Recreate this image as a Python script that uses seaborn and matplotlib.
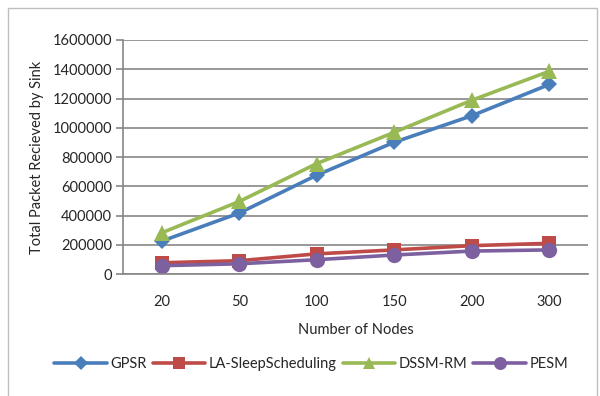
import matplotlib
matplotlib.use("Agg")
import matplotlib.pyplot as plt
import seaborn as sns
import pandas as pd
from matplotlib.patches import Rectangle

nodes = ["20", "50", "100", "150", "200", "300"]
gpsr = [225000, 417000, 676000, 901000, 1082000, 1296000]
la_sleep = [77000, 91000, 138000, 165000, 194000, 210000]
dssm_rm = [282000, 496000, 755000, 969000, 1188000, 1386000]
pesm = [57000, 70000, 98000, 130000, 157000, 165000]
series_names = ["GPSR", "LA-SleepScheduling", "DSSM-RM", "PESM"]
y_ticks = [0, 200000, 400000, 600000, 800000, 1000000, 1200000, 1400000, 1600000]

rows = []
for name, vals in zip(series_names, [gpsr, la_sleep, dssm_rm, pesm]):
    for n, v in zip(nodes, vals):
        rows.append({"Nodes": n, "Value": v, "Series": name})
df = pd.DataFrame(rows)

sns.set_theme(style="white")
plt.rcParams['font.family'] = ['Lato', 'DejaVu Sans']

fig = plt.figure(figsize=(6, 3.96), dpi=100)
ax = fig.add_axes([0.205, 0.308, 0.775, 0.591])

palette = {"GPSR": "#4A7EBB", "LA-SleepScheduling": "#BE4B48",
           "DSSM-RM": "#98B954", "PESM": "#7D60A0"}
markers = {"GPSR": "D", "LA-SleepScheduling": "s", "DSSM-RM": "^", "PESM": "o"}
sizes = {"GPSR": 8.5, "LA-SleepScheduling": 9.5, "DSSM-RM": 11, "PESM": 11}

for name in series_names:
    sub = df[df["Series"] == name]
    sns.lineplot(data=sub, x="Nodes", y="Value", ax=ax, color=palette[name],
                 marker=markers[name], markersize=sizes[name], markeredgewidth=0,
                 linewidth=2.6, label=name, sort=False)

ax.set_xlim(-0.5, 5.5)
ax.set_ylim(0, 1600000)
ax.set_yticks(y_ticks)
ax.set_yticklabels([str(t) for t in y_ticks])
ax.yaxis.grid(True, color="#868686", linewidth=1.2)
ax.xaxis.grid(False)
ax.set_axisbelow(True)
for s in ["top", "right"]:
    ax.spines[s].set_visible(False)
ax.spines["left"].set_color("#868686")
ax.spines["bottom"].set_color("#868686")
ax.spines["left"].set_linewidth(1.2)
ax.spines["bottom"].set_linewidth(1.2)
ax.tick_params(axis="y", left=True, length=5, width=1.2, color="#868686", labelsize=10.5, pad=3)
ax.tick_params(axis="x", bottom=False, labelsize=10.5, pad=9)
ax.set_xlabel("Number of Nodes", fontsize=10.5, labelpad=10)
ax.set_ylabel("Total Packet Recieved by Sink", fontsize=10.5, labelpad=6)

handles, labels = ax.get_legend_handles_labels()
ax.legend(handles, labels, loc="upper center", bbox_to_anchor=(0.405, -0.30),
          ncol=4, frameon=False, fontsize=10.5, handlelength=3.6,
          columnspacing=0.4, handletextpad=0.25, markerscale=0.85)

fig.patches.append(Rectangle((8/600, -0.1), 589/600, 1 - 8/396 + 0.1,
                             transform=fig.transFigure, fill=False,
                             edgecolor="#BFBFBF", linewidth=1.0))

fig.savefig("out.png", dpi=100)
